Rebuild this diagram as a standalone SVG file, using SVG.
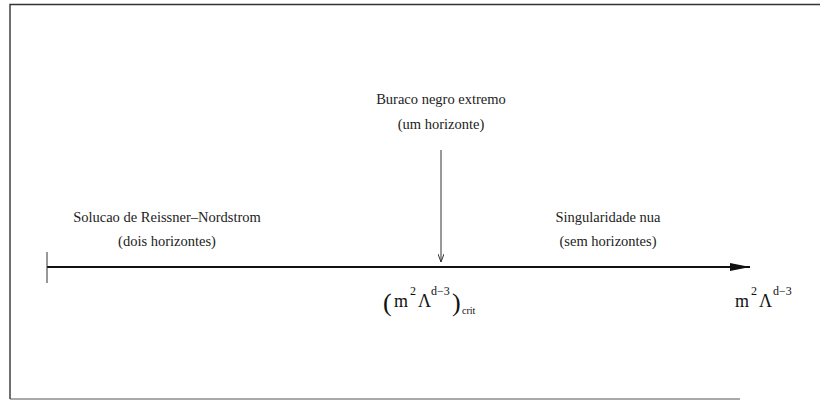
<svg xmlns="http://www.w3.org/2000/svg" width="820" height="402" viewBox="0 0 820 402">
<defs>
<style>
.t{font-family:'Liberation Serif','DejaVu Serif',serif;font-size:14.5px;fill:#222;text-anchor:middle}
.m{font-family:'Liberation Serif','DejaVu Serif',serif;fill:#111}
.frame{stroke:#333;stroke-width:1.4;fill:none}
.axis{stroke:#111;stroke-width:2;fill:none}
.thin{stroke:#333;stroke-width:1;fill:none}
</style>
<marker id="ahBig" viewBox="0 0 20 10" refX="20" refY="5" markerWidth="20" markerHeight="10" markerUnits="userSpaceOnUse" orient="auto">
<path d="M0,1 L20,5 L0,9 Z" fill="#111"/>
</marker>
<marker id="ahSmall" viewBox="0 0 6 8" refX="3" refY="8" markerWidth="6" markerHeight="8" markerUnits="userSpaceOnUse" orient="0">
<path d="M0,0 L3,8 L6,0" fill="none" stroke="#333" stroke-width="1"/>
</marker>
</defs>
<rect width="820" height="402" fill="#fff"/>
<g id="frame">
<path class="frame" d="M10,399 L10,4.5 L820,4.5"/>
<path d="M10,399 L740,399" stroke="#555" stroke-width="1.2" fill="none"/>
</g>
<g id="connectors">
<line class="axis" x1="47" y1="267" x2="750" y2="267" marker-end="url(#ahBig)"/>
<line class="thin" x1="47" y1="252" x2="47" y2="283"/>
<line class="thin" x1="441" y1="150" x2="441" y2="262" marker-end="url(#ahSmall)"/>
</g>
<g id="node-extremo">
<text class="t" x="441" y="104">Buraco negro extremo</text>
<text class="t" x="441" y="129">(um horizonte)</text>
</g>
<g id="node-rn">
<text class="t" x="167" y="222">Solucao de Reissner–Nordstrom</text>
<text class="t" x="167" y="246">(dois horizontes)</text>
</g>
<g id="node-nua">
<text class="t" x="608" y="222">Singularidade nua</text>
<text class="t" x="608" y="246">(sem horizontes)</text>
</g>
<g id="label-crit">
<text class="m" x="383" y="311" font-size="26">(</text>
<text class="m" x="394" y="307" font-size="18">m</text>
<text class="m" x="410" y="295" font-size="12">2</text>
<text class="m" x="418" y="307" font-size="18">Λ</text>
<text class="m" x="431" y="295" font-size="12">d−3</text>
<text class="m" x="452" y="311" font-size="26">)</text>
<text class="m" x="462" y="314" font-size="10">crit</text>
</g>
<g id="label-axis">
<text class="m" x="735" y="307" font-size="18">m</text>
<text class="m" x="751" y="295" font-size="12">2</text>
<text class="m" x="759" y="307" font-size="18">Λ</text>
<text class="m" x="773" y="295" font-size="12">d−3</text>
</g>
</svg>
